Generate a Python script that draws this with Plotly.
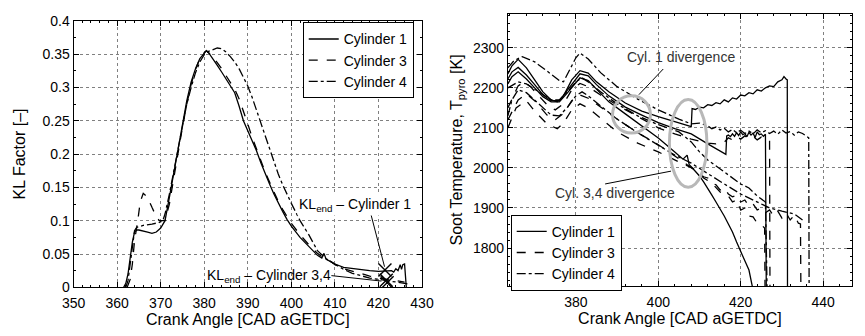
import plotly.graph_objects as go

# ---------------- Left panel: KL factor ----------------
kl_x1 = [361.5, 362, 362.5, 363, 363.5, 364, 364.5, 365, 366, 367, 368, 369, 370, 371, 372, 373, 374, 375, 376, 377, 378, 379, 380, 380.5, 381, 382, 383, 384, 385, 386, 387, 388, 389, 390, 391, 392, 393, 394, 395, 396, 397, 398, 399, 400, 402, 404, 406, 407, 407.5, 408, 410, 412, 414, 416, 418, 420, 422, 423, 423.5, 424, 424.5, 425, 425.3, 425.6, 426, 426.2, 426.4]
kl_y1 = [0.0, 0.006, 0.02, 0.045, 0.068, 0.083, 0.086, 0.086, 0.085, 0.083, 0.081, 0.083, 0.089, 0.1, 0.135, 0.172, 0.207, 0.246, 0.28, 0.308, 0.328, 0.343, 0.352, 0.355, 0.352, 0.343, 0.333, 0.323, 0.313, 0.303, 0.292, 0.272, 0.25, 0.235, 0.22, 0.205, 0.187, 0.17, 0.155, 0.14, 0.126, 0.114, 0.102, 0.092, 0.075, 0.061, 0.048, 0.044, 0.051, 0.042, 0.035, 0.03, 0.028, 0.026, 0.025, 0.024, 0.024, 0.025, 0.023, 0.028, 0.025, 0.034, 0.027, 0.034, 0.035, 0.018, 0.0]

kl_x3 = [362.3, 363, 363.5, 364, 364.7, 365.3, 366, 367, 368, 369, 369.7, 371, 372, 373, 374, 375, 376, 377, 378, 379, 380, 380.5, 381, 382, 383, 384, 385, 386, 387, 388, 389, 390, 391, 392, 393, 394, 395, 396, 397, 398, 399, 400, 402, 404, 406, 407, 408, 410, 412, 414, 416, 418, 420, 422, 424, 426]
kl_y3 = [0.0, 0.012, 0.035, 0.07, 0.098, 0.128, 0.141, 0.135, 0.12, 0.106, 0.1, 0.1, 0.125, 0.165, 0.2, 0.24, 0.275, 0.305, 0.327, 0.343, 0.352, 0.355, 0.352, 0.345, 0.337, 0.328, 0.318, 0.308, 0.297, 0.283, 0.265, 0.245, 0.225, 0.207, 0.19, 0.173, 0.158, 0.143, 0.129, 0.117, 0.106, 0.096, 0.079, 0.064, 0.051, 0.046, 0.044, 0.034, 0.028, 0.024, 0.02, 0.017, 0.014, 0.012, 0.01, 0.008]

kl_x4 = [362, 362.5, 363, 363.5, 364, 364.5, 366, 368, 369.5, 370.5, 371, 372, 373, 374, 375, 376, 377, 378, 379, 380, 381, 382, 383, 384, 385, 386, 387, 388, 389, 390, 391, 392, 393, 394, 395, 396, 397, 398, 399, 400, 402, 404, 406, 407, 408, 410, 412, 414, 416, 418, 420, 422, 424, 426, 427]
kl_y4 = [0.0, 0.01, 0.035, 0.065, 0.085, 0.09, 0.093, 0.095, 0.097, 0.1, 0.11, 0.14, 0.175, 0.21, 0.245, 0.275, 0.3, 0.322, 0.338, 0.349, 0.354, 0.357, 0.359, 0.358, 0.353, 0.346, 0.338, 0.328, 0.316, 0.302, 0.285, 0.266, 0.246, 0.226, 0.207, 0.188, 0.17, 0.154, 0.139, 0.126, 0.1, 0.079, 0.055, 0.049, 0.043, 0.035, 0.027, 0.021, 0.017, 0.014, 0.012, 0.01, 0.008, 0.006, 0.005]

kl_end_x = [421.5, 421.8, 422.0]
kl_end_y = [0.026, 0.0105, 0.007]

# ---------------- Right panel: soot temperature ----------------
s1a_x = [363.5, 364.5, 366, 368, 370, 372, 374, 375.5, 377, 379, 381, 383, 385, 388, 392, 396, 400, 404, 408, 408.2, 409, 410, 411, 412, 413, 414, 415, 416, 417, 418, 419, 420, 421, 422, 423, 424, 425, 426, 427, 428, 429, 430, 430.5, 431, 431.3, 431.35]
s1a_y = [2235, 2255, 2271, 2250, 2220, 2190, 2170, 2165, 2180, 2220, 2243, 2237, 2215, 2190, 2162, 2142, 2128, 2115, 2103, 2148, 2146, 2152, 2150, 2158, 2156, 2163, 2160, 2170, 2165, 2175, 2172, 2182, 2180, 2188, 2185, 2195, 2192, 2200, 2205, 2203, 2215, 2220, 2228, 2222, 2220, 1700]

s1b_x = [363.5, 364.5, 366, 368, 370, 372, 374, 376, 378, 381, 383, 385, 388, 392, 396, 400, 404, 408, 412, 416, 416.4, 416.6, 417, 417.5, 418, 418.5, 419, 419.5, 420, 420.5, 421, 421.5, 422, 422.5, 423, 423.5, 424, 424.5, 425, 425.5, 426, 426.2]
s1b_y = [2222, 2240, 2251, 2232, 2208, 2183, 2168, 2168, 2195, 2235, 2230, 2208, 2180, 2152, 2132, 2113, 2098, 2085, 2060, 2036, 2034, 2080, 2082, 2078, 2085, 2079, 2088, 2081, 2090, 2083, 2086, 2078, 2089, 2082, 2087, 2076, 2090, 2083, 2085, 2079, 2084, 1700]

s1c_x = [363.5, 364.5, 366, 368, 370, 372, 374, 376, 378, 381, 383, 385, 388, 392, 396, 400, 404, 406, 407, 407.5, 408, 409, 410, 411, 412, 413, 414, 415, 416, 417, 418, 419, 420, 421, 422, 422.8]
s1c_y = [2210, 2228, 2240, 2222, 2200, 2178, 2165, 2165, 2188, 2225, 2218, 2196, 2165, 2135, 2105, 2075, 2040, 2022, 2032, 2008, 2003, 1992, 1980, 1965, 1950, 1932, 1915, 1898, 1880, 1860, 1840, 1815, 1790, 1768, 1745, 1705]

d3a_x = [363.5, 365, 366, 367.5, 369, 371, 373, 375, 377, 379, 381, 383, 386, 390, 395, 400, 404, 408, 412, 414, 416, 417, 418, 419, 420, 421, 422, 423, 424, 425, 426, 427, 427.1]
d3a_y = [2150, 2185, 2205, 2215, 2203, 2180, 2158, 2145, 2160, 2195, 2211, 2203, 2182, 2157, 2128, 2100, 2085, 2072, 2062, 2060, 2064, 2075, 2070, 2078, 2072, 2080, 2074, 2079, 2070, 2077, 2072, 2068, 1700]

d3b_x = [363.5, 366, 368, 370, 373, 375, 377, 379, 381, 383, 386, 390, 395, 400, 404, 408, 410, 411, 412, 413, 414, 415, 416, 417, 418, 419, 420, 421, 422, 423, 424, 425, 426, 427, 428, 429, 430, 431, 432, 433, 434, 434.5, 434.6]
d3b_y = [2120, 2170, 2185, 2168, 2132, 2120, 2136, 2168, 2182, 2174, 2152, 2122, 2088, 2058, 2030, 2000, 1985, 1978, 1975, 1962, 1958, 1945, 1950, 1935, 1928, 1932, 1915, 1920, 1905, 1910, 1895, 1900, 1888, 1895, 1880, 1892, 1875, 1888, 1870, 1882, 1862, 1860, 1700]

d3c_x = [363.5, 365.5, 368, 370, 373, 375.5, 377, 379, 381, 383, 386, 390, 395, 400, 405, 409, 411, 413, 415, 417, 418, 419, 420, 421, 422, 423, 424, 425, 425.8, 425.9]
d3c_y = [2100, 2150, 2168, 2142, 2110, 2098, 2112, 2145, 2160, 2150, 2124, 2090, 2062, 2040, 2015, 1996, 1975, 1962, 1940, 1930, 1915, 1920, 1895, 1900, 1880, 1878, 1862, 1858, 1850, 1700]

c4a_x = [363.5, 365, 367, 370, 373, 376, 377, 378, 380, 381, 383, 386, 390, 395, 400, 405, 408, 410, 412, 413, 414, 415, 416, 417, 418, 419, 420, 421, 422, 423, 424, 425, 426, 427, 428, 429, 430, 431, 432, 433, 434, 435, 436, 436.5, 436.6]
c4a_y = [2250, 2268, 2278, 2265, 2242, 2218, 2215, 2235, 2275, 2287, 2272, 2238, 2203, 2172, 2145, 2122, 2110, 2112, 2105, 2098, 2102, 2095, 2099, 2090, 2096, 2088, 2094, 2086, 2092, 2085, 2095, 2088, 2093, 2086, 2092, 2084, 2095, 2087, 2091, 2082, 2090, 2086, 2080, 2075, 1700]

c4b_x = [363.5, 366, 368, 371, 374, 376, 378, 380, 381.5, 383, 386, 390, 395, 400, 405, 408, 410, 412, 414, 416, 418, 420, 422, 424, 426, 426.4]
c4b_y = [2200, 2215, 2210, 2190, 2170, 2170, 2190, 2215, 2225, 2215, 2190, 2160, 2130, 2108, 2090, 2065, 2040, 2020, 2005, 1990, 1975, 1960, 1950, 1930, 1915, 1700]

c4c_x = [363.5, 364.5, 366, 368, 371, 374, 376, 378, 380, 381.5, 383, 386, 390, 395, 400, 404, 408, 412, 416, 420, 424, 427, 430, 433, 435]
c4c_y = [2130, 2170, 2195, 2188, 2160, 2132, 2130, 2152, 2180, 2190, 2180, 2155, 2122, 2088, 2058, 2032, 2012, 1985, 1960, 1935, 1915, 1900, 1892, 1885, 1870]

FONT = "Liberation Sans, Arial, Helvetica, sans-serif"
styles = {"Cylinder 1": "solid", "Cylinder 3": "dash", "Cylinder 4": "dashdot"}

fig = go.Figure()

# left panel traces
for name, xs, ys in [("Cylinder 1", kl_x1, kl_y1), ("Cylinder 3", kl_x3, kl_y3), ("Cylinder 4", kl_x4, kl_y4)]:
    fig.add_trace(go.Scatter(x=xs, y=ys, mode="lines", name=name,
                             line=dict(color="black", width=1.3, dash=styles[name]),
                             xaxis="x", yaxis="y", legend="legend"))
fig.add_trace(go.Scatter(x=kl_end_x, y=kl_end_y, mode="markers", showlegend=False,
                         marker=dict(symbol="x-thin", size=13, line=dict(color="black", width=1.4)),
                         xaxis="x", yaxis="y"))

# right panel traces
right = [("Cylinder 1", s1a_x, s1a_y, True), ("Cylinder 1", s1b_x, s1b_y, False), ("Cylinder 1", s1c_x, s1c_y, False),
         ("Cylinder 3", d3a_x, d3a_y, True), ("Cylinder 3", d3b_x, d3b_y, False), ("Cylinder 3", d3c_x, d3c_y, False),
         ("Cylinder 4", c4a_x, c4a_y, True), ("Cylinder 4", c4b_x, c4b_y, False), ("Cylinder 4", c4c_x, c4c_y, False)]
for name, xs, ys, show in right:
    fig.add_trace(go.Scatter(x=xs, y=ys, mode="lines", name=name, showlegend=show,
                             legendgroup="r" + name,
                             line=dict(color="black", width=1.3, dash=styles[name]),
                             xaxis="x2", yaxis="y2", legend="legend2"))

axis_common = dict(showline=True, linecolor="black", linewidth=1, mirror="ticks",
                   ticks="inside", ticklen=5, tickcolor="black",
                   showgrid=True, gridcolor="#808080", griddash="dot", gridwidth=1,
                   zeroline=False, tickfont=dict(family=FONT, size=14, color="black"))

fig.update_layout(
    width=865, height=336, margin=dict(l=0, r=0, t=0, b=0),
    paper_bgcolor="white", plot_bgcolor="white",
    font=dict(family=FONT, size=14, color="black"),
    xaxis=dict(domain=[0.0732, 0.4875], range=[350, 430], dtick=10, anchor="y",
               ticklabelstandoff=3,
               title=dict(text="Crank Angle [CAD aGETDC]", font=dict(size=16), standoff=0),
               minor=dict(dtick=2, ticks="inside", ticklen=2, tickcolor="black", showgrid=False),
               **axis_common),
    yaxis=dict(domain=[0.127, 0.9604], range=[0, 0.4], dtick=0.05, anchor="x",
               tickformat="~g",
               title=dict(text="KL Factor [–]", font=dict(size=16), standoff=12),
               minor=dict(dtick=0.025, ticks="inside", ticklen=2, tickcolor="black", showgrid=False),
               **axis_common),
    xaxis2=dict(domain=[0.5896, 0.9988], range=[363.5, 447], tick0=380, dtick=20, anchor="y2",
                ticklabelstandoff=3,
                title=dict(text="Crank Angle [CAD aGETDC]", font=dict(size=16), standoff=0),
                minor=dict(dtick=4, ticks="inside", ticklen=2, tickcolor="black", showgrid=False),
                **axis_common),
    yaxis2=dict(domain=[0.131, 0.982], range=[1705, 2385], dtick=100, anchor="x2",
                title=dict(text="Soot Temperature, T<sub>pyro</sub> [K]", font=dict(size=16), standoff=6),
                minor=dict(dtick=20, ticks="inside", ticklen=2, tickcolor="black", showgrid=False),
                **axis_common),
    legend=dict(x=0.3457, y=0.955, xanchor="left", yanchor="top", bgcolor="white",
                bordercolor="black", borderwidth=1, font=dict(size=14),
                tracegroupgap=0, itemwidth=30),
    legend2=dict(x=0.593, y=0.354, xanchor="left", yanchor="top", bgcolor="white",
                 bordercolor="black", borderwidth=1, font=dict(size=14),
                 tracegroupgap=0, itemwidth=30),
)

# ellipses on right panel
fig.add_shape(type="circle", xref="x2", yref="y2", x0=388.9, x1=398.1, y0=2087, y1=2180,
              line=dict(color="#b8b8b8", width=3))
fig.add_shape(type="circle", xref="x2", yref="y2", x0=402.7, x1=411.8, y0=1952, y1=2171,
              line=dict(color="#b8b8b8", width=3))
# leader lines
fig.add_shape(type="line", xref="x2", yref="y2", x0=401.2, y0=2247, x1=395.3, y1=2183,
              line=dict(color="black", width=1))
fig.add_shape(type="line", xref="x2", yref="y2", x0=387.1, y0=1960, x1=403.1, y1=1992,
              line=dict(color="black", width=1))
fig.add_shape(type="line", xref="x", yref="y", x0=418.3, y0=0.109, x1=421.4, y1=0.031,
              line=dict(color="black", width=1))
fig.add_shape(type="line", xref="x", yref="y", x0=409.2, y0=0.0176, x1=420.7, y1=0.0094,
              line=dict(color="black", width=1))

fig.add_annotation(xref="x2", yref="y2", x=405.6, y=2276, text="Cyl. 1 divergence",
                   showarrow=False, font=dict(size=14, color="#333"))
fig.add_annotation(xref="x2", yref="y2", x=389.4, y=1938, text="Cyl. 3,4 divergence",
                   showarrow=False, font=dict(size=14, color="#333"))
fig.add_annotation(xref="x", yref="y", x=414.6, y=0.123, text="KL<sub>end</sub> – Cylinder 1",
                   showarrow=False, font=dict(size=14, color="black"), bgcolor="white")
fig.add_annotation(xref="x", yref="y", x=394.8, y=0.0166, text="KL<sub>end</sub> – Cylinder 3,4",
                   showarrow=False, font=dict(size=14, color="black"))

fig.write_html("out.html")
